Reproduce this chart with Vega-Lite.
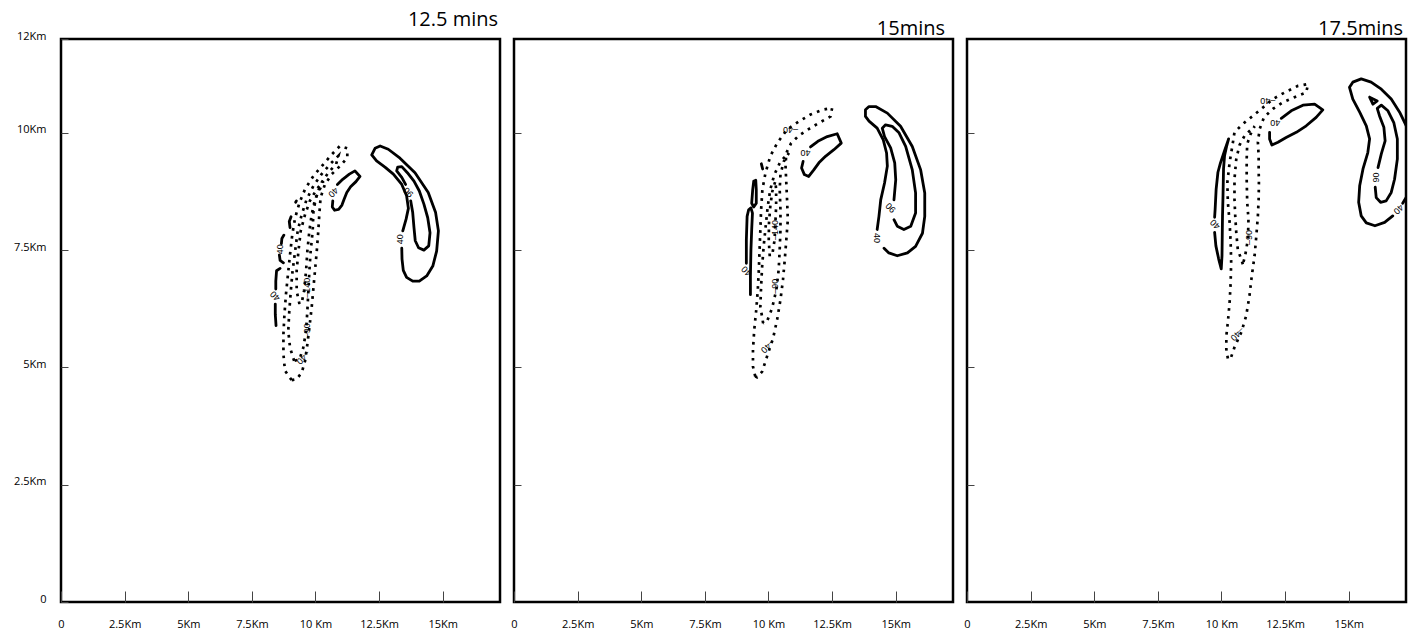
{
"$schema": "https://vega.github.io/schema/vega-lite/v6.json",
"background": "white",
"padding": {"left": 12, "top": 8, "right": 0, "bottom": 0},
"config": {
 "view": {"stroke": "black", "strokeWidth": 2.5},
 "font": "Open Sans",
 "axis": {"domain": false, "grid": false, "tickColor": "#444", "tickWidth": 1, "labelFont": "Open Sans", "labelFontSize": 11, "labelColor": "black", "labelFlush": false, "labelOverlap": false},
 "title": {"font": "Open Sans", "fontSize": 20, "fontWeight": "normal", "anchor": "end", "color": "black"},
 "concat": {"spacing": 7}
},
"datasets": {
 "contours": [
{"p":1,"c":"a1","lev":40,"x":13.43,"y":7.91},{"p":1,"c":"a1","lev":40,"x":13.56,"y":8.16},{"p":1,"c":"a1","lev":40,"x":13.65,"y":8.39},{"p":1,"c":"a1","lev":40,"x":13.58,"y":8.66},{"p":1,"c":"a1","lev":40,"x":13.39,"y":8.90},{"p":1,"c":"a1","lev":40,"x":13.06,"y":9.12},{"p":1,"c":"a1","lev":40,"x":12.73,"y":9.27},{"p":1,"c":"a1","lev":40,"x":12.40,"y":9.40},{"p":1,"c":"a1","lev":40,"x":12.21,"y":9.53},{"p":1,"c":"a1","lev":40,"x":12.34,"y":9.67},{"p":1,"c":"a1","lev":40,"x":12.54,"y":9.72},{"p":1,"c":"a1","lev":40,"x":12.86,"y":9.65},{"p":1,"c":"a1","lev":40,"x":13.32,"y":9.46},{"p":1,"c":"a1","lev":40,"x":13.91,"y":9.15},{"p":1,"c":"a1","lev":40,"x":14.43,"y":8.73},{"p":1,"c":"a1","lev":40,"x":14.72,"y":8.30},{"p":1,"c":"a1","lev":40,"x":14.83,"y":7.91},{"p":1,"c":"a1","lev":40,"x":14.76,"y":7.48},{"p":1,"c":"a1","lev":40,"x":14.61,"y":7.16},{"p":1,"c":"a1","lev":40,"x":14.37,"y":6.95},{"p":1,"c":"a1","lev":40,"x":14.08,"y":6.84},{"p":1,"c":"a1","lev":40,"x":13.82,"y":6.84},{"p":1,"c":"a1","lev":40,"x":13.58,"y":6.92},{"p":1,"c":"a1","lev":40,"x":13.45,"y":7.07},{"p":1,"c":"a1","lev":40,"x":13.40,"y":7.31},{"p":1,"c":"a1","lev":40,"x":13.39,"y":7.54},
{"p":1,"c":"b1","lev":90,"x":13.74,"y":8.55},{"p":1,"c":"b1","lev":90,"x":13.82,"y":8.30},{"p":1,"c":"b1","lev":90,"x":13.87,"y":7.98},{"p":1,"c":"b1","lev":90,"x":13.92,"y":7.70},{"p":1,"c":"b1","lev":90,"x":14.05,"y":7.55},{"p":1,"c":"b1","lev":90,"x":14.26,"y":7.50},{"p":1,"c":"b1","lev":90,"x":14.45,"y":7.59},{"p":1,"c":"b1","lev":90,"x":14.50,"y":7.87},{"p":1,"c":"b1","lev":90,"x":14.41,"y":8.19},{"p":1,"c":"b1","lev":90,"x":14.26,"y":8.48},{"p":1,"c":"b1","lev":90,"x":14.08,"y":8.76},{"p":1,"c":"b1","lev":90,"x":13.87,"y":8.97},{"p":1,"c":"b1","lev":90,"x":13.61,"y":9.15},{"p":1,"c":"b1","lev":90,"x":13.39,"y":9.28},{"p":1,"c":"b1","lev":90,"x":13.23,"y":9.27},{"p":1,"c":"b1","lev":90,"x":13.19,"y":9.19},{"p":1,"c":"b1","lev":90,"x":13.39,"y":9.05},{"p":1,"c":"b1","lev":90,"x":13.54,"y":8.90},
{"p":1,"c":"c1","lev":40,"x":10.86,"y":8.90},{"p":1,"c":"c1","lev":40,"x":11.07,"y":9.01},{"p":1,"c":"c1","lev":40,"x":11.33,"y":9.12},{"p":1,"c":"c1","lev":40,"x":11.55,"y":9.19},{"p":1,"c":"c1","lev":40,"x":11.75,"y":9.07},{"p":1,"c":"c1","lev":40,"x":11.59,"y":8.96},{"p":1,"c":"c1","lev":40,"x":11.38,"y":8.85},{"p":1,"c":"c1","lev":40,"x":11.23,"y":8.73},{"p":1,"c":"c1","lev":40,"x":11.12,"y":8.58},{"p":1,"c":"c1","lev":40,"x":11.04,"y":8.46},{"p":1,"c":"c1","lev":40,"x":10.91,"y":8.37},{"p":1,"c":"c1","lev":40,"x":10.75,"y":8.35},{"p":1,"c":"c1","lev":40,"x":10.66,"y":8.42},{"p":1,"c":"c1","lev":40,"x":10.68,"y":8.55},
{"p":1,"c":"d1","lev":40,"x":8.76,"y":7.82},{"p":1,"c":"d1","lev":40,"x":8.68,"y":7.75},{"p":1,"c":"d1","lev":40,"x":8.66,"y":7.64},
{"p":1,"c":"e1","lev":40,"x":8.58,"y":7.40},{"p":1,"c":"e1","lev":40,"x":8.61,"y":7.28},{"p":1,"c":"e1","lev":40,"x":8.74,"y":7.23},
{"p":1,"c":"f1","lev":40,"x":9.04,"y":8.21},{"p":1,"c":"f1","lev":40,"x":8.97,"y":8.11},{"p":1,"c":"f1","lev":40,"x":9.00,"y":7.98},
{"p":1,"c":"g1","lev":40,"x":8.61,"y":7.11},{"p":1,"c":"g1","lev":40,"x":8.47,"y":7.06},{"p":1,"c":"g1","lev":40,"x":8.44,"y":6.84},{"p":1,"c":"g1","lev":40,"x":8.44,"y":6.67},
{"p":1,"c":"h1","lev":40,"x":8.42,"y":6.35},{"p":1,"c":"h1","lev":40,"x":8.42,"y":6.13},{"p":1,"c":"h1","lev":40,"x":8.45,"y":5.89},
{"p":1,"c":"k1","lev":40,"x":9.22,"y":8.52},{"p":1,"c":"k1","lev":40,"x":9.25,"y":8.55},
{"p":1,"c":"m1","lev":-40,"x":9.06,"y":4.73},{"p":1,"c":"m1","lev":-40,"x":8.80,"y":4.93},{"p":1,"c":"m1","lev":-40,"x":8.74,"y":5.28},{"p":1,"c":"m1","lev":-40,"x":8.74,"y":5.71},{"p":1,"c":"m1","lev":-40,"x":8.78,"y":6.13},{"p":1,"c":"m1","lev":-40,"x":8.84,"y":6.56},{"p":1,"c":"m1","lev":-40,"x":8.92,"y":6.99},{"p":1,"c":"m1","lev":-40,"x":9.00,"y":7.41},{"p":1,"c":"m1","lev":-40,"x":9.09,"y":7.84},{"p":1,"c":"m1","lev":-40,"x":9.20,"y":8.19},{"p":1,"c":"m1","lev":-40,"x":9.37,"y":8.51},{"p":1,"c":"m1","lev":-40,"x":9.59,"y":8.80},{"p":1,"c":"m1","lev":-40,"x":9.92,"y":9.08},{"p":1,"c":"m1","lev":-40,"x":10.31,"y":9.33},{"p":1,"c":"m1","lev":-40,"x":10.64,"y":9.54},{"p":1,"c":"m1","lev":-40,"x":10.96,"y":9.72},{"p":1,"c":"m1","lev":-40,"x":11.25,"y":9.67},{"p":1,"c":"m1","lev":-40,"x":11.25,"y":9.47},{"p":1,"c":"m1","lev":-40,"x":10.96,"y":9.29},{"p":1,"c":"m1","lev":-40,"x":10.64,"y":9.12},{"p":1,"c":"m1","lev":-40,"x":10.37,"y":8.90},{"p":1,"c":"m1","lev":-40,"x":10.20,"y":8.62},{"p":1,"c":"m1","lev":-40,"x":10.15,"y":8.26},{"p":1,"c":"m1","lev":-40,"x":10.11,"y":7.91},{"p":1,"c":"m1","lev":-40,"x":10.05,"y":7.48},{"p":1,"c":"m1","lev":-40,"x":9.98,"y":7.06},{"p":1,"c":"m1","lev":-40,"x":9.92,"y":6.70},{"p":1,"c":"m1","lev":-40,"x":9.85,"y":6.28},{"p":1,"c":"m1","lev":-40,"x":9.76,"y":5.85},{"p":1,"c":"m1","lev":-40,"x":9.68,"y":5.49},{"p":1,"c":"m1","lev":-40,"x":9.59,"y":5.14},{"p":1,"c":"m1","lev":-40,"x":9.46,"y":4.89},{"p":1,"c":"m1","lev":-40,"x":9.26,"y":4.75},{"p":1,"c":"m1","lev":-40,"x":9.06,"y":4.73},
{"p":1,"c":"n1","lev":-90,"x":9.16,"y":5.14},{"p":1,"c":"n1","lev":-90,"x":9.00,"y":5.42},{"p":1,"c":"n1","lev":-90,"x":8.93,"y":5.78},{"p":1,"c":"n1","lev":-90,"x":8.97,"y":6.20},{"p":1,"c":"n1","lev":-90,"x":9.03,"y":6.63},{"p":1,"c":"n1","lev":-90,"x":9.10,"y":7.06},{"p":1,"c":"n1","lev":-90,"x":9.20,"y":7.48},{"p":1,"c":"n1","lev":-90,"x":9.30,"y":7.91},{"p":1,"c":"n1","lev":-90,"x":9.46,"y":8.26},{"p":1,"c":"n1","lev":-90,"x":9.65,"y":8.58},{"p":1,"c":"n1","lev":-90,"x":9.92,"y":8.87},{"p":1,"c":"n1","lev":-90,"x":10.24,"y":9.12},{"p":1,"c":"n1","lev":-90,"x":10.57,"y":9.33},{"p":1,"c":"n1","lev":-90,"x":10.90,"y":9.51},{"p":1,"c":"n1","lev":-90,"x":10.81,"y":9.33},{"p":1,"c":"n1","lev":-90,"x":10.50,"y":9.15},{"p":1,"c":"n1","lev":-90,"x":10.24,"y":8.94},{"p":1,"c":"n1","lev":-90,"x":10.05,"y":8.69},{"p":1,"c":"n1","lev":-90,"x":9.92,"y":8.34},{"p":1,"c":"n1","lev":-90,"x":9.89,"y":7.91},{"p":1,"c":"n1","lev":-90,"x":9.81,"y":7.48},{"p":1,"c":"n1","lev":-90,"x":9.76,"y":7.06},{"p":1,"c":"n1","lev":-90,"x":9.72,"y":6.63},{"p":1,"c":"n1","lev":-90,"x":9.68,"y":6.20},{"p":1,"c":"n1","lev":-90,"x":9.63,"y":5.78},{"p":1,"c":"n1","lev":-90,"x":9.52,"y":5.42},{"p":1,"c":"n1","lev":-90,"x":9.37,"y":5.17},{"p":1,"c":"n1","lev":-90,"x":9.16,"y":5.14},
{"p":1,"c":"q1","lev":-140,"x":9.37,"y":6.35},{"p":1,"c":"q1","lev":-140,"x":9.26,"y":6.63},{"p":1,"c":"q1","lev":-140,"x":9.26,"y":7.06},{"p":1,"c":"q1","lev":-140,"x":9.33,"y":7.48},{"p":1,"c":"q1","lev":-140,"x":9.42,"y":7.91},{"p":1,"c":"q1","lev":-140,"x":9.59,"y":8.26},{"p":1,"c":"q1","lev":-140,"x":9.78,"y":8.55},{"p":1,"c":"q1","lev":-140,"x":10.05,"y":8.80},{"p":1,"c":"q1","lev":-140,"x":10.31,"y":8.97},{"p":1,"c":"q1","lev":-140,"x":10.20,"y":8.83},{"p":1,"c":"q1","lev":-140,"x":9.98,"y":8.58},{"p":1,"c":"q1","lev":-140,"x":9.85,"y":8.26},{"p":1,"c":"q1","lev":-140,"x":9.76,"y":7.91},{"p":1,"c":"q1","lev":-140,"x":9.68,"y":7.48},{"p":1,"c":"q1","lev":-140,"x":9.63,"y":7.06},{"p":1,"c":"q1","lev":-140,"x":9.55,"y":6.63},{"p":1,"c":"q1","lev":-140,"x":9.46,"y":6.38},{"p":1,"c":"q1","lev":-140,"x":9.37,"y":6.35},
{"p":2,"c":"a2","lev":40,"x":14.27,"y":7.94},{"p":2,"c":"a2","lev":40,"x":14.34,"y":8.22},{"p":2,"c":"a2","lev":40,"x":14.41,"y":8.57},{"p":2,"c":"a2","lev":40,"x":14.56,"y":8.93},{"p":2,"c":"a2","lev":40,"x":14.67,"y":9.29},{"p":2,"c":"a2","lev":40,"x":14.64,"y":9.57},{"p":2,"c":"a2","lev":40,"x":14.51,"y":9.85},{"p":2,"c":"a2","lev":40,"x":14.27,"y":10.10},{"p":2,"c":"a2","lev":40,"x":13.95,"y":10.25},{"p":2,"c":"a2","lev":40,"x":13.81,"y":10.35},{"p":2,"c":"a2","lev":40,"x":13.81,"y":10.49},{"p":2,"c":"a2","lev":40,"x":13.95,"y":10.56},{"p":2,"c":"a2","lev":40,"x":14.21,"y":10.56},{"p":2,"c":"a2","lev":40,"x":14.67,"y":10.42},{"p":2,"c":"a2","lev":40,"x":15.19,"y":10.14},{"p":2,"c":"a2","lev":40,"x":15.65,"y":9.71},{"p":2,"c":"a2","lev":40,"x":15.98,"y":9.21},{"p":2,"c":"a2","lev":40,"x":16.14,"y":8.72},{"p":2,"c":"a2","lev":40,"x":16.14,"y":8.22},{"p":2,"c":"a2","lev":40,"x":16.05,"y":7.86},{"p":2,"c":"a2","lev":40,"x":15.78,"y":7.58},{"p":2,"c":"a2","lev":40,"x":15.46,"y":7.44},{"p":2,"c":"a2","lev":40,"x":15.06,"y":7.38},{"p":2,"c":"a2","lev":40,"x":14.73,"y":7.44},{"p":2,"c":"a2","lev":40,"x":14.54,"y":7.54},
{"p":2,"c":"b2","lev":90,"x":14.93,"y":8.15},{"p":2,"c":"b2","lev":90,"x":15.06,"y":8.01},{"p":2,"c":"b2","lev":90,"x":15.32,"y":7.94},{"p":2,"c":"b2","lev":90,"x":15.59,"y":8.01},{"p":2,"c":"b2","lev":90,"x":15.78,"y":8.29},{"p":2,"c":"b2","lev":90,"x":15.78,"y":8.72},{"p":2,"c":"b2","lev":90,"x":15.65,"y":9.21},{"p":2,"c":"b2","lev":90,"x":15.39,"y":9.71},{"p":2,"c":"b2","lev":90,"x":15.13,"y":10.00},{"p":2,"c":"b2","lev":90,"x":14.86,"y":10.14},{"p":2,"c":"b2","lev":90,"x":14.60,"y":10.17},{"p":2,"c":"b2","lev":90,"x":14.47,"y":10.10},{"p":2,"c":"b2","lev":90,"x":14.56,"y":9.92},{"p":2,"c":"b2","lev":90,"x":14.80,"y":9.68},{"p":2,"c":"b2","lev":90,"x":14.96,"y":9.36},{"p":2,"c":"b2","lev":90,"x":15.00,"y":9.00},{"p":2,"c":"b2","lev":90,"x":14.93,"y":8.57},
{"p":2,"c":"c2","lev":40,"x":11.65,"y":9.70},{"p":2,"c":"c2","lev":40,"x":11.94,"y":9.82},{"p":2,"c":"c2","lev":40,"x":12.31,"y":9.92},{"p":2,"c":"c2","lev":40,"x":12.70,"y":9.98},{"p":2,"c":"c2","lev":40,"x":12.86,"y":9.78},{"p":2,"c":"c2","lev":40,"x":12.57,"y":9.64},{"p":2,"c":"c2","lev":40,"x":12.24,"y":9.50},{"p":2,"c":"c2","lev":40,"x":11.98,"y":9.36},{"p":2,"c":"c2","lev":40,"x":11.78,"y":9.21},{"p":2,"c":"c2","lev":40,"x":11.58,"y":9.07},{"p":2,"c":"c2","lev":40,"x":11.41,"y":9.11},{"p":2,"c":"c2","lev":40,"x":11.30,"y":9.25},{"p":2,"c":"c2","lev":40,"x":11.36,"y":9.39},
{"p":2,"c":"d2","lev":40,"x":9.72,"y":9.34},{"p":2,"c":"d2","lev":40,"x":9.77,"y":9.23},
{"p":2,"c":"e2","lev":40,"x":9.42,"y":8.97},{"p":2,"c":"e2","lev":40,"x":9.50,"y":8.99},{"p":2,"c":"e2","lev":40,"x":9.52,"y":8.79},{"p":2,"c":"e2","lev":40,"x":9.52,"y":8.50},{"p":2,"c":"e2","lev":40,"x":9.42,"y":8.42},{"p":2,"c":"e2","lev":40,"x":9.34,"y":8.50},{"p":2,"c":"e2","lev":40,"x":9.38,"y":8.79},{"p":2,"c":"e2","lev":40,"x":9.42,"y":8.97},
{"p":2,"c":"f2","lev":40,"x":9.29,"y":6.55},{"p":2,"c":"f2","lev":40,"x":9.29,"y":6.94},{"p":2,"c":"f2","lev":40,"x":9.31,"y":7.51},{"p":2,"c":"f2","lev":40,"x":9.34,"y":7.94},{"p":2,"c":"f2","lev":40,"x":9.37,"y":8.29},{"p":2,"c":"f2","lev":40,"x":9.31,"y":8.40},{"p":2,"c":"f2","lev":40,"x":9.22,"y":8.36},{"p":2,"c":"f2","lev":40,"x":9.16,"y":8.22},{"p":2,"c":"f2","lev":40,"x":9.13,"y":7.72},{"p":2,"c":"f2","lev":40,"x":9.13,"y":7.22},
{"p":2,"c":"m2","lev":-40,"x":9.48,"y":4.81},{"p":2,"c":"m2","lev":-40,"x":9.39,"y":5.02},{"p":2,"c":"m2","lev":-40,"x":9.39,"y":5.38},{"p":2,"c":"m2","lev":-40,"x":9.44,"y":5.80},{"p":2,"c":"m2","lev":-40,"x":9.52,"y":6.23},{"p":2,"c":"m2","lev":-40,"x":9.58,"y":6.66},{"p":2,"c":"m2","lev":-40,"x":9.62,"y":7.08},{"p":2,"c":"m2","lev":-40,"x":9.65,"y":7.51},{"p":2,"c":"m2","lev":-40,"x":9.68,"y":7.93},{"p":2,"c":"m2","lev":-40,"x":9.71,"y":8.36},{"p":2,"c":"m2","lev":-40,"x":9.76,"y":8.79},{"p":2,"c":"m2","lev":-40,"x":9.88,"y":9.14},{"p":2,"c":"m2","lev":-40,"x":10.07,"y":9.50},{"p":2,"c":"m2","lev":-40,"x":10.34,"y":9.78},{"p":2,"c":"m2","lev":-40,"x":10.73,"y":10.07},{"p":2,"c":"m2","lev":-40,"x":11.19,"y":10.24},{"p":2,"c":"m2","lev":-40,"x":11.65,"y":10.39},{"p":2,"c":"m2","lev":-40,"x":12.11,"y":10.49},{"p":2,"c":"m2","lev":-40,"x":12.50,"y":10.53},{"p":2,"c":"m2","lev":-40,"x":12.44,"y":10.35},{"p":2,"c":"m2","lev":-40,"x":11.98,"y":10.21},{"p":2,"c":"m2","lev":-40,"x":11.58,"y":10.08},{"p":2,"c":"m2","lev":-40,"x":11.19,"y":9.94},{"p":2,"c":"m2","lev":-40,"x":10.89,"y":9.78},{"p":2,"c":"m2","lev":-40,"x":10.70,"y":9.57},{"p":2,"c":"m2","lev":-40,"x":10.67,"y":9.29},{"p":2,"c":"m2","lev":-40,"x":10.70,"y":8.93},{"p":2,"c":"m2","lev":-40,"x":10.73,"y":8.57},{"p":2,"c":"m2","lev":-40,"x":10.76,"y":8.15},{"p":2,"c":"m2","lev":-40,"x":10.70,"y":7.72},{"p":2,"c":"m2","lev":-40,"x":10.64,"y":7.30},{"p":2,"c":"m2","lev":-40,"x":10.57,"y":6.87},{"p":2,"c":"m2","lev":-40,"x":10.47,"y":6.44},{"p":2,"c":"m2","lev":-40,"x":10.34,"y":6.02},{"p":2,"c":"m2","lev":-40,"x":10.18,"y":5.62},{"p":2,"c":"m2","lev":-40,"x":9.94,"y":5.23},{"p":2,"c":"m2","lev":-40,"x":9.75,"y":4.91},{"p":2,"c":"m2","lev":-40,"x":9.55,"y":4.79},{"p":2,"c":"m2","lev":-40,"x":9.48,"y":4.81},
{"p":2,"c":"n2","lev":-90,"x":9.79,"y":5.94},{"p":2,"c":"n2","lev":-90,"x":9.68,"y":6.30},{"p":2,"c":"n2","lev":-90,"x":9.71,"y":6.73},{"p":2,"c":"n2","lev":-90,"x":9.75,"y":7.15},{"p":2,"c":"n2","lev":-90,"x":9.81,"y":7.58},{"p":2,"c":"n2","lev":-90,"x":9.89,"y":8.01},{"p":2,"c":"n2","lev":-90,"x":9.97,"y":8.43},{"p":2,"c":"n2","lev":-90,"x":10.07,"y":8.79},{"p":2,"c":"n2","lev":-90,"x":10.23,"y":9.11},{"p":2,"c":"n2","lev":-90,"x":10.47,"y":9.39},{"p":2,"c":"n2","lev":-90,"x":10.80,"y":9.57},{"p":2,"c":"n2","lev":-90,"x":10.60,"y":9.39},{"p":2,"c":"n2","lev":-90,"x":10.47,"y":9.11},{"p":2,"c":"n2","lev":-90,"x":10.44,"y":8.79},{"p":2,"c":"n2","lev":-90,"x":10.47,"y":8.36},{"p":2,"c":"n2","lev":-90,"x":10.47,"y":7.93},{"p":2,"c":"n2","lev":-90,"x":10.44,"y":7.51},{"p":2,"c":"n2","lev":-90,"x":10.40,"y":7.08},{"p":2,"c":"n2","lev":-90,"x":10.31,"y":6.66},{"p":2,"c":"n2","lev":-90,"x":10.14,"y":6.26},{"p":2,"c":"n2","lev":-90,"x":9.94,"y":5.98},{"p":2,"c":"n2","lev":-90,"x":9.79,"y":5.94},
{"p":2,"c":"q2","lev":-140,"x":10.05,"y":7.37},{"p":2,"c":"q2","lev":-140,"x":10.01,"y":7.72},{"p":2,"c":"q2","lev":-140,"x":10.02,"y":8.08},{"p":2,"c":"q2","lev":-140,"x":10.07,"y":8.43},{"p":2,"c":"q2","lev":-140,"x":10.15,"y":8.75},{"p":2,"c":"q2","lev":-140,"x":10.27,"y":8.97},{"p":2,"c":"q2","lev":-140,"x":10.30,"y":8.79},{"p":2,"c":"q2","lev":-140,"x":10.30,"y":8.43},{"p":2,"c":"q2","lev":-140,"x":10.27,"y":8.08},{"p":2,"c":"q2","lev":-140,"x":10.24,"y":7.72},{"p":2,"c":"q2","lev":-140,"x":10.16,"y":7.44},{"p":2,"c":"q2","lev":-140,"x":10.05,"y":7.37},
{"p":3,"c":"a3","lev":40,"x":16.73,"y":8.23},{"p":3,"c":"a3","lev":40,"x":16.41,"y":8.09},{"p":3,"c":"a3","lev":40,"x":16.03,"y":8.02},{"p":3,"c":"a3","lev":40,"x":15.69,"y":8.08},{"p":3,"c":"a3","lev":40,"x":15.49,"y":8.23},{"p":3,"c":"a3","lev":40,"x":15.39,"y":8.52},{"p":3,"c":"a3","lev":40,"x":15.43,"y":8.87},{"p":3,"c":"a3","lev":40,"x":15.56,"y":9.23},{"p":3,"c":"a3","lev":40,"x":15.75,"y":9.58},{"p":3,"c":"a3","lev":40,"x":15.82,"y":9.87},{"p":3,"c":"a3","lev":40,"x":15.69,"y":10.15},{"p":3,"c":"a3","lev":40,"x":15.43,"y":10.44},{"p":3,"c":"a3","lev":40,"x":15.16,"y":10.72},{"p":3,"c":"a3","lev":40,"x":15.03,"y":10.97},{"p":3,"c":"a3","lev":40,"x":15.16,"y":11.08},{"p":3,"c":"a3","lev":40,"x":15.49,"y":11.15},{"p":3,"c":"a3","lev":40,"x":15.88,"y":11.08},{"p":3,"c":"a3","lev":40,"x":16.28,"y":10.93},{"p":3,"c":"a3","lev":40,"x":16.67,"y":10.72},{"p":3,"c":"a3","lev":40,"x":17.00,"y":10.44},{"p":3,"c":"a3","lev":40,"x":17.26,"y":10.15},{"p":3,"c":"a3","lev":40,"x":17.46,"y":9.94},
{"p":3,"c":"a3b","lev":40,"x":17.12,"y":8.50},{"p":3,"c":"a3b","lev":40,"x":17.40,"y":8.75},
{"p":3,"c":"b3","lev":90,"x":16.15,"y":9.26},{"p":3,"c":"b3","lev":90,"x":16.28,"y":9.55},{"p":3,"c":"b3","lev":90,"x":16.43,"y":9.83},{"p":3,"c":"b3","lev":90,"x":16.38,"y":10.12},{"p":3,"c":"b3","lev":90,"x":16.21,"y":10.36},{"p":3,"c":"b3","lev":90,"x":16.12,"y":10.52},{"p":3,"c":"b3","lev":90,"x":16.28,"y":10.59},{"p":3,"c":"b3","lev":90,"x":16.54,"y":10.47},{"p":3,"c":"b3","lev":90,"x":16.77,"y":10.22},{"p":3,"c":"b3","lev":90,"x":16.91,"y":9.87},{"p":3,"c":"b3","lev":90,"x":16.91,"y":9.44},{"p":3,"c":"b3","lev":90,"x":16.80,"y":9.01},{"p":3,"c":"b3","lev":90,"x":16.67,"y":8.73},{"p":3,"c":"b3","lev":90,"x":16.47,"y":8.55},{"p":3,"c":"b3","lev":90,"x":16.25,"y":8.52},{"p":3,"c":"b3","lev":90,"x":16.08,"y":8.62},{"p":3,"c":"b3","lev":90,"x":16.04,"y":8.84},
{"p":3,"c":"t3","lev":140,"x":15.82,"y":10.76},{"p":3,"c":"t3","lev":140,"x":16.12,"y":10.68},{"p":3,"c":"t3","lev":140,"x":15.95,"y":10.61},{"p":3,"c":"t3","lev":140,"x":15.82,"y":10.76},
{"p":3,"c":"c3","lev":40,"x":12.35,"y":10.31},{"p":3,"c":"c3","lev":40,"x":12.74,"y":10.47},{"p":3,"c":"c3","lev":40,"x":13.20,"y":10.59},{"p":3,"c":"c3","lev":40,"x":13.66,"y":10.61},{"p":3,"c":"c3","lev":40,"x":13.98,"y":10.49},{"p":3,"c":"c3","lev":40,"x":13.72,"y":10.33},{"p":3,"c":"c3","lev":40,"x":13.33,"y":10.15},{"p":3,"c":"c3","lev":40,"x":12.94,"y":10.01},{"p":3,"c":"c3","lev":40,"x":12.54,"y":9.90},{"p":3,"c":"c3","lev":40,"x":12.22,"y":9.80},{"p":3,"c":"c3","lev":40,"x":11.98,"y":9.74},{"p":3,"c":"c3","lev":40,"x":11.89,"y":9.87},{"p":3,"c":"c3","lev":40,"x":11.89,"y":10.01},
{"p":3,"c":"d3","lev":40,"x":9.73,"y":8.20},{"p":3,"c":"d3","lev":40,"x":9.75,"y":8.37},{"p":3,"c":"d3","lev":40,"x":9.79,"y":8.80},{"p":3,"c":"d3","lev":40,"x":9.86,"y":9.16},{"p":3,"c":"d3","lev":40,"x":9.96,"y":9.36},{"p":3,"c":"d3","lev":40,"x":10.12,"y":9.62},{"p":3,"c":"d3","lev":40,"x":10.28,"y":9.87},{"p":3,"c":"d3","lev":40,"x":10.20,"y":9.71},{"p":3,"c":"d3","lev":40,"x":10.12,"y":9.51},{"p":3,"c":"d3","lev":40,"x":10.08,"y":9.23},{"p":3,"c":"d3","lev":40,"x":10.07,"y":8.94},{"p":3,"c":"d3","lev":40,"x":10.06,"y":8.66},{"p":3,"c":"d3","lev":40,"x":10.04,"y":8.23},{"p":3,"c":"d3","lev":40,"x":10.03,"y":7.81},{"p":3,"c":"d3","lev":40,"x":10.02,"y":7.38},{"p":3,"c":"d3","lev":40,"x":9.99,"y":7.10},{"p":3,"c":"d3","lev":40,"x":9.89,"y":7.31},{"p":3,"c":"d3","lev":40,"x":9.78,"y":7.59},{"p":3,"c":"d3","lev":40,"x":9.73,"y":7.88},
{"p":3,"c":"m3","lev":-40,"x":10.25,"y":5.19},{"p":3,"c":"m3","lev":-40,"x":10.19,"y":5.39},{"p":3,"c":"m3","lev":-40,"x":10.19,"y":5.67},{"p":3,"c":"m3","lev":-40,"x":10.25,"y":5.96},{"p":3,"c":"m3","lev":-40,"x":10.32,"y":6.39},{"p":3,"c":"m3","lev":-40,"x":10.36,"y":6.81},{"p":3,"c":"m3","lev":-40,"x":10.38,"y":7.24},{"p":3,"c":"m3","lev":-40,"x":10.36,"y":7.66},{"p":3,"c":"m3","lev":-40,"x":10.32,"y":8.09},{"p":3,"c":"m3","lev":-40,"x":10.25,"y":8.52},{"p":3,"c":"m3","lev":-40,"x":10.23,"y":8.94},{"p":3,"c":"m3","lev":-40,"x":10.32,"y":9.37},{"p":3,"c":"m3","lev":-40,"x":10.45,"y":9.80},{"p":3,"c":"m3","lev":-40,"x":10.51,"y":10.01},{"p":3,"c":"m3","lev":-40,"x":10.84,"y":10.19},{"p":3,"c":"m3","lev":-40,"x":11.23,"y":10.36},{"p":3,"c":"m3","lev":-40,"x":11.63,"y":10.54},{"p":3,"c":"m3","lev":-40,"x":12.02,"y":10.72},{"p":3,"c":"m3","lev":-40,"x":12.48,"y":10.86},{"p":3,"c":"m3","lev":-40,"x":13.00,"y":11.00},{"p":3,"c":"m3","lev":-40,"x":13.40,"y":11.04},{"p":3,"c":"m3","lev":-40,"x":13.33,"y":10.86},{"p":3,"c":"m3","lev":-40,"x":12.87,"y":10.76},{"p":3,"c":"m3","lev":-40,"x":12.41,"y":10.65},{"p":3,"c":"m3","lev":-40,"x":12.02,"y":10.51},{"p":3,"c":"m3","lev":-40,"x":11.67,"y":10.33},{"p":3,"c":"m3","lev":-40,"x":11.50,"y":10.08},{"p":3,"c":"m3","lev":-40,"x":11.43,"y":9.80},{"p":3,"c":"m3","lev":-40,"x":11.46,"y":9.51},{"p":3,"c":"m3","lev":-40,"x":11.46,"y":9.23},{"p":3,"c":"m3","lev":-40,"x":11.47,"y":8.94},{"p":3,"c":"m3","lev":-40,"x":11.46,"y":8.59},{"p":3,"c":"m3","lev":-40,"x":11.43,"y":8.23},{"p":3,"c":"m3","lev":-40,"x":11.37,"y":7.81},{"p":3,"c":"m3","lev":-40,"x":11.30,"y":7.38},{"p":3,"c":"m3","lev":-40,"x":11.19,"y":6.95},{"p":3,"c":"m3","lev":-40,"x":11.10,"y":6.53},{"p":3,"c":"m3","lev":-40,"x":10.97,"y":6.10},{"p":3,"c":"m3","lev":-40,"x":10.78,"y":5.75},{"p":3,"c":"m3","lev":-40,"x":10.51,"y":5.43},{"p":3,"c":"m3","lev":-40,"x":10.36,"y":5.19},{"p":3,"c":"m3","lev":-40,"x":10.25,"y":5.19},
{"p":3,"c":"n3","lev":-90,"x":10.84,"y":7.20},{"p":3,"c":"n3","lev":-90,"x":10.64,"y":7.52},{"p":3,"c":"n3","lev":-90,"x":10.58,"y":7.88},{"p":3,"c":"n3","lev":-90,"x":10.54,"y":8.23},{"p":3,"c":"n3","lev":-90,"x":10.51,"y":8.59},{"p":3,"c":"n3","lev":-90,"x":10.51,"y":9.01},{"p":3,"c":"n3","lev":-90,"x":10.58,"y":9.44},{"p":3,"c":"n3","lev":-90,"x":10.71,"y":9.74},{"p":3,"c":"n3","lev":-90,"x":10.91,"y":9.94},{"p":3,"c":"n3","lev":-90,"x":11.30,"y":10.14},{"p":3,"c":"n3","lev":-90,"x":11.14,"y":9.97},{"p":3,"c":"n3","lev":-90,"x":11.01,"y":9.76},{"p":3,"c":"n3","lev":-90,"x":10.99,"y":9.44},{"p":3,"c":"n3","lev":-90,"x":10.99,"y":9.01},{"p":3,"c":"n3","lev":-90,"x":11.01,"y":8.52},{"p":3,"c":"n3","lev":-90,"x":11.06,"y":8.16},{"p":3,"c":"n3","lev":-90,"x":11.04,"y":7.74},{"p":3,"c":"n3","lev":-90,"x":10.93,"y":7.38},{"p":3,"c":"n3","lev":-90,"x":10.84,"y":7.20}
 ],
 "labels": [
{"p":1,"txt":"40","dir":"N","x":13.32,"y":7.73},{"p":1,"txt":"90","dir":"S","x":13.65,"y":8.73},{"p":1,"txt":"40","dir":"NNE","x":10.70,"y":8.73},{"p":1,"txt":"40","dir":"N","x":8.61,"y":7.52},{"p":1,"txt":"40","dir":"S","x":8.41,"y":6.52},{"p":1,"txt":"–140","dir":"N","x":9.65,"y":6.70},{"p":1,"txt":"–90","dir":"N","x":9.65,"y":5.78},{"p":1,"txt":"–40","dir":"NNE","x":9.52,"y":5.21},
{"p":2,"txt":"–40","dir":"NE","x":10.86,"y":10.07},{"p":2,"txt":"40","dir":"NE","x":11.45,"y":9.57},{"p":2,"txt":"–140","dir":"N","x":10.27,"y":7.93},{"p":2,"txt":"–90","dir":"N","x":10.27,"y":6.73},{"p":2,"txt":"–40","dir":"NNE","x":9.97,"y":5.45},{"p":2,"txt":"90","dir":"S","x":14.80,"y":8.40},{"p":2,"txt":"40","dir":"SE","x":14.27,"y":7.76},{"p":2,"txt":"40","dir":"S","x":9.13,"y":7.05},
{"p":3,"txt":"–40","dir":"NE","x":11.82,"y":10.68},{"p":3,"txt":"40","dir":"NE","x":12.11,"y":10.21},{"p":3,"txt":"–90","dir":"N","x":11.10,"y":7.77},{"p":3,"txt":"–40","dir":"NNE","x":10.62,"y":5.71},{"p":3,"txt":"40","dir":"S","x":9.75,"y":8.05},{"p":3,"txt":"90","dir":"N","x":16.08,"y":9.05},{"p":3,"txt":"40","dir":"NNE","x":16.96,"y":8.37}
 ]
},
"hconcat": [
 {
  "width": 439, "height": 563,
  "title": {"text": "12.5 mins", "offset": 0, "dx": -2},
  "layer": [
   {"data": {"name": "contours"}, "transform": [{"filter": "datum.p == 1 && datum.lev > 0"}],
    "mark": {"type": "line", "stroke": "black", "strokeWidth": 2.8, "strokeJoin": "round", "strokeCap": "round", "clip": true},
    "encoding": {
     "x": {"field": "x", "type": "quantitative", "scale": {"domain": [0, 17.25], "nice": false, "zero": false}, "axis": {"values": [0, 2.5, 5, 7.5, 10, 12.5, 15], "tickSize": -11, "labelPadding": 27, "labelExpr": "datum.value == 0 ? '0' : datum.value == 10 ? '10 Km' : datum.value + 'Km'", "title": null}},
     "y": {"field": "y", "type": "quantitative", "scale": {"domain": [0, 12], "nice": false, "zero": false}, "axis": {"values": [0, 2.5, 5, 7.5, 10, 12], "tickSize": -7, "labelPadding": 22, "labelOffset": -3, "labelExpr": "datum.value == 0 ? '0' : datum.value + 'Km'", "title": null}},
     "detail": {"field": "c"}, "order": {"value": null}}},
   {"data": {"name": "contours"}, "transform": [{"filter": "datum.p == 1 && datum.lev < 0"}],
    "mark": {"type": "line", "stroke": "black", "strokeWidth": 2.7, "strokeDash": [2.7, 5.3], "strokeCap": "butt", "clip": true},
    "encoding": {
     "x": {"field": "x", "type": "quantitative", "scale": {"domain": [0, 17.25], "nice": false, "zero": false}, "axis": {"values": [0, 2.5, 5, 7.5, 10, 12.5, 15], "tickSize": -11, "labelPadding": 27, "labelExpr": "datum.value == 0 ? '0' : datum.value == 10 ? '10 Km' : datum.value + 'Km'", "title": null}},
     "y": {"field": "y", "type": "quantitative", "scale": {"domain": [0, 12], "nice": false, "zero": false}, "axis": {"values": [0, 2.5, 5, 7.5, 10, 12], "tickSize": -7, "labelPadding": 22, "labelOffset": -3, "labelExpr": "datum.value == 0 ? '0' : datum.value + 'Km'", "title": null}},
     "detail": {"field": "c"}, "order": {"value": null}}},
   {"data": {"name": "labels"}, "transform": [{"filter": "datum.p == 1"}],
    "mark": {"type": "text", "font": "Liberation Sans", "fontSize": 9, "fill": "black"},
    "encoding": {
     "x": {"field": "x", "type": "quantitative", "scale": {"domain": [0, 17.25], "nice": false, "zero": false}, "axis": {"values": [0, 2.5, 5, 7.5, 10, 12.5, 15], "tickSize": -11, "labelPadding": 27, "labelExpr": "datum.value == 0 ? '0' : datum.value == 10 ? '10 Km' : datum.value + 'Km'", "title": null}},
     "y": {"field": "y", "type": "quantitative", "scale": {"domain": [0, 12], "nice": false, "zero": false}, "axis": {"values": [0, 2.5, 5, 7.5, 10, 12], "tickSize": -7, "labelPadding": 22, "labelOffset": -3, "labelExpr": "datum.value == 0 ? '0' : datum.value + 'Km'", "title": null}},
     "text": {"field": "txt"},
     "angle": {"field": "dir", "type": "nominal", "scale": {"domain": ["N", "S", "NE", "NNE", "SE"], "range": [270, 90, 315, 295, 60]}, "legend": null}}}
  ]
 },
 {
  "width": 439, "height": 563,
  "title": {"text": "15mins", "offset": 0, "dx": -8},
  "layer": [
   {"data": {"name": "contours"}, "transform": [{"filter": "datum.p == 2 && datum.lev > 0"}],
    "mark": {"type": "line", "stroke": "black", "strokeWidth": 2.8, "strokeJoin": "round", "strokeCap": "round", "clip": true},
    "encoding": {
     "x": {"field": "x", "type": "quantitative", "scale": {"domain": [0, 17.25], "nice": false, "zero": false}, "axis": {"values": [0, 2.5, 5, 7.5, 10, 12.5, 15], "tickSize": -11, "labelPadding": 27, "labelExpr": "datum.value == 0 ? '0' : datum.value == 10 ? '10 Km' : datum.value + 'Km'", "title": null}},
     "y": {"field": "y", "type": "quantitative", "scale": {"domain": [0, 12], "nice": false, "zero": false}, "axis": {"values": [2.5, 5, 7.5, 10], "tickSize": -7, "labels": false, "title": null}},
     "detail": {"field": "c"}, "order": {"value": null}}},
   {"data": {"name": "contours"}, "transform": [{"filter": "datum.p == 2 && datum.lev < 0"}],
    "mark": {"type": "line", "stroke": "black", "strokeWidth": 2.7, "strokeDash": [2.7, 5.3], "strokeCap": "butt", "clip": true},
    "encoding": {
     "x": {"field": "x", "type": "quantitative", "scale": {"domain": [0, 17.25], "nice": false, "zero": false}, "axis": {"values": [0, 2.5, 5, 7.5, 10, 12.5, 15], "tickSize": -11, "labelPadding": 27, "labelExpr": "datum.value == 0 ? '0' : datum.value == 10 ? '10 Km' : datum.value + 'Km'", "title": null}},
     "y": {"field": "y", "type": "quantitative", "scale": {"domain": [0, 12], "nice": false, "zero": false}, "axis": {"values": [2.5, 5, 7.5, 10], "tickSize": -7, "labels": false, "title": null}},
     "detail": {"field": "c"}, "order": {"value": null}}},
   {"data": {"name": "labels"}, "transform": [{"filter": "datum.p == 2"}],
    "mark": {"type": "text", "font": "Liberation Sans", "fontSize": 9, "fill": "black"},
    "encoding": {
     "x": {"field": "x", "type": "quantitative", "scale": {"domain": [0, 17.25], "nice": false, "zero": false}, "axis": {"values": [0, 2.5, 5, 7.5, 10, 12.5, 15], "tickSize": -11, "labelPadding": 27, "labelExpr": "datum.value == 0 ? '0' : datum.value == 10 ? '10 Km' : datum.value + 'Km'", "title": null}},
     "y": {"field": "y", "type": "quantitative", "scale": {"domain": [0, 12], "nice": false, "zero": false}, "axis": {"values": [2.5, 5, 7.5, 10], "tickSize": -7, "labels": false, "title": null}},
     "text": {"field": "txt"},
     "angle": {"field": "dir", "type": "nominal", "scale": {"domain": ["N", "S", "NE", "NNE", "SE"], "range": [270, 90, 315, 295, 60]}, "legend": null}}}
  ]
 },
 {
  "width": 439, "height": 563,
  "title": {"text": "17.5mins", "offset": 0, "dx": -3},
  "layer": [
   {"data": {"name": "contours"}, "transform": [{"filter": "datum.p == 3 && datum.lev > 0"}],
    "mark": {"type": "line", "stroke": "black", "strokeWidth": 2.8, "strokeJoin": "round", "strokeCap": "round", "clip": true},
    "encoding": {
     "x": {"field": "x", "type": "quantitative", "scale": {"domain": [0, 17.25], "nice": false, "zero": false}, "axis": {"values": [0, 2.5, 5, 7.5, 10, 12.5, 15], "tickSize": -11, "labelPadding": 27, "labelExpr": "datum.value == 0 ? '0' : datum.value == 10 ? '10 Km' : datum.value + 'Km'", "title": null}},
     "y": {"field": "y", "type": "quantitative", "scale": {"domain": [0, 12], "nice": false, "zero": false}, "axis": {"values": [2.5, 5, 7.5, 10], "tickSize": -7, "labels": false, "title": null}},
     "detail": {"field": "c"}, "order": {"value": null}}},
   {"data": {"name": "contours"}, "transform": [{"filter": "datum.p == 3 && datum.lev < 0"}],
    "mark": {"type": "line", "stroke": "black", "strokeWidth": 2.7, "strokeDash": [2.7, 5.3], "strokeCap": "butt", "clip": true},
    "encoding": {
     "x": {"field": "x", "type": "quantitative", "scale": {"domain": [0, 17.25], "nice": false, "zero": false}, "axis": {"values": [0, 2.5, 5, 7.5, 10, 12.5, 15], "tickSize": -11, "labelPadding": 27, "labelExpr": "datum.value == 0 ? '0' : datum.value == 10 ? '10 Km' : datum.value + 'Km'", "title": null}},
     "y": {"field": "y", "type": "quantitative", "scale": {"domain": [0, 12], "nice": false, "zero": false}, "axis": {"values": [2.5, 5, 7.5, 10], "tickSize": -7, "labels": false, "title": null}},
     "detail": {"field": "c"}, "order": {"value": null}}},
   {"data": {"name": "labels"}, "transform": [{"filter": "datum.p == 3"}],
    "mark": {"type": "text", "font": "Liberation Sans", "fontSize": 9, "fill": "black"},
    "encoding": {
     "x": {"field": "x", "type": "quantitative", "scale": {"domain": [0, 17.25], "nice": false, "zero": false}, "axis": {"values": [0, 2.5, 5, 7.5, 10, 12.5, 15], "tickSize": -11, "labelPadding": 27, "labelExpr": "datum.value == 0 ? '0' : datum.value == 10 ? '10 Km' : datum.value + 'Km'", "title": null}},
     "y": {"field": "y", "type": "quantitative", "scale": {"domain": [0, 12], "nice": false, "zero": false}, "axis": {"values": [2.5, 5, 7.5, 10], "tickSize": -7, "labels": false, "title": null}},
     "text": {"field": "txt"},
     "angle": {"field": "dir", "type": "nominal", "scale": {"domain": ["N", "S", "NE", "NNE", "SE"], "range": [270, 90, 315, 295, 60]}, "legend": null}}}
  ]
 }
]
}
